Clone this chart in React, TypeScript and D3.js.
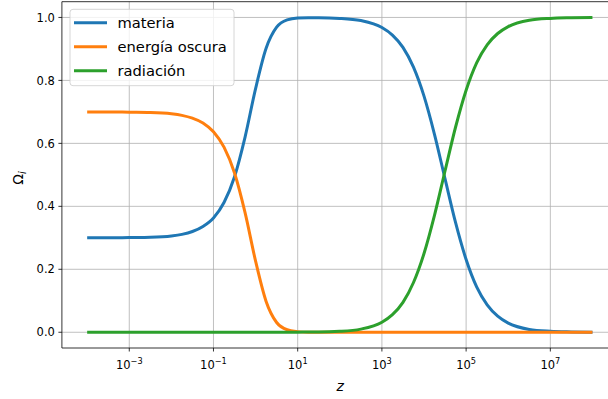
import React from 'react';
import * as d3 from 'd3';

// log10(z) sample points
const zExp = [-4, -3.5, -3, -2.5, -2, -1.75, -1.5, -1.25, -1, -0.75, -0.5, -0.25, 0, 0.25, 0.5, 0.75, 1, 1.25, 1.5, 2, 2.5, 3, 3.25, 3.5, 3.75, 4, 4.25, 4.5, 4.75, 5, 5.25, 5.5, 5.75, 6, 6.5, 7, 7.5, 8];
const materia = [0.300, 0.300, 0.301, 0.302, 0.306, 0.311, 0.320, 0.336, 0.363, 0.412, 0.494, 0.620, 0.774, 0.902, 0.969, 0.992, 0.998, 0.999, 0.999, 0.997, 0.990, 0.968, 0.944, 0.905, 0.842, 0.750, 0.628, 0.487, 0.348, 0.231, 0.144, 0.087, 0.051, 0.029, 0.009, 0.003, 0.001, 0.000];
const energiaOscura = [0.700, 0.700, 0.699, 0.698, 0.694, 0.689, 0.680, 0.665, 0.637, 0.588, 0.506, 0.380, 0.226, 0.098, 0.031, 0.008, 0.002, 0.000, 0.000, 0.000, 0.000, 0.000, 0.000, 0.000, 0.000, 0.000, 0.000, 0.000, 0.000, 0.000, 0.000, 0.000, 0.000, 0.000, 0.000, 0.000, 0.000, 0.000];
const radiacion = [0.000, 0.000, 0.000, 0.000, 0.000, 0.000, 0.000, 0.000, 0.000, 0.000, 0.000, 0.000, 0.000, 0.000, 0.000, 0.000, 0.000, 0.001, 0.001, 0.003, 0.010, 0.032, 0.056, 0.095, 0.158, 0.250, 0.372, 0.513, 0.652, 0.769, 0.856, 0.913, 0.949, 0.971, 0.991, 0.997, 0.999, 1.000];

const seriesNames = ['materia', 'energía oscura', 'radiación'];
const seriesColors = ['#1f77b4', '#ff7f0e', '#2ca02c'];
const xTickExps = [-3, -1, 1, 3, 5, 7];
const yTicks = [0, 0.2, 0.4, 0.6, 0.8, 1.0];

const W = 608;
const H = 399;
const font = 'DejaVu Sans, sans-serif';

export default function App() {
  const x = d3.scaleLog().domain([Math.pow(10, -4.6), Math.pow(10, 8.6)]).range([61.9, 617.7]);
  const y = d3.scaleLinear().domain([-0.05, 1.05]).range([348, 1.7]);

  const series = [materia, energiaOscura, radiacion];
  const line = d3.line<number>()
    .x((_, i) => x(Math.pow(10, zExp[i])))
    .y(d => y(d))
    .curve(d3.curveMonotoneX);

  const left = 61.9;
  const right = 617.7;
  const top = 1.7;
  const bottom = 348;

  return (
    <svg width={W} height={H} style={{ position: 'absolute', left: 0, top: 0, background: '#fff' }} fontFamily={font}>
      <defs>
        <clipPath id="plot">
          <rect x={left} y={top} width={right - left} height={bottom - top} />
        </clipPath>
      </defs>
      {/* grid */}
      <g stroke="#b0b0b0" strokeWidth={0.8}>
        {xTickExps.map(e => (
          <line key={e} x1={x(Math.pow(10, e))} x2={x(Math.pow(10, e))} y1={top} y2={bottom} />
        ))}
        {yTicks.map(t => (
          <line key={t} x1={left} x2={right} y1={y(t)} y2={y(t)} />
        ))}
      </g>
      {/* curves */}
      <g clipPath="url(#plot)">
        {series.map((s, i) => (
          <path key={i} d={line(s) || ''} fill="none" stroke={seriesColors[i]} strokeWidth={3} strokeLinejoin="round" strokeLinecap="butt" />
        ))}
      </g>
      {/* spines */}
      <g stroke="#000" strokeWidth={0.8} fill="none">
        <line x1={left} x2={left} y1={top} y2={bottom} />
        <line x1={left} x2={right} y1={bottom} y2={bottom} />
        <line x1={left} x2={right} y1={top} y2={top} />
      </g>
      {/* y ticks */}
      <g fontSize={11.5} fill="#000">
        {yTicks.map(t => (
          <g key={t}>
            <line x1={left - 3.5} x2={left} y1={y(t)} y2={y(t)} stroke="#000" strokeWidth={0.8} />
            <text x={left - 7} y={y(t)} dy="0.36em" textAnchor="end">{t.toFixed(1)}</text>
          </g>
        ))}
      </g>
      {/* x ticks */}
      <g fontSize={11.5} fill="#000">
        {xTickExps.map(e => {
          const px = x(Math.pow(10, e));
          return (
            <g key={e}>
              <line x1={px} x2={px} y1={bottom} y2={bottom + 3.5} stroke="#000" strokeWidth={0.8} />
              <text x={px} y={369} textAnchor="middle">
                10<tspan fontSize={8.2} dy={-5}>{e < 0 ? '\u2212' + Math.abs(e) : String(e)}</tspan>
              </text>
            </g>
          );
        })}
      </g>
      {/* axis labels */}
      <text x={(left + right) / 2 + 0.5} y={391} textAnchor="middle" fontSize={14} fontStyle="italic">z</text>
      <text transform="translate(23,178) rotate(-90)" textAnchor="middle" fontSize={14}>
        Ω<tspan fontSize={10} fontStyle="italic" dy={3}>i</tspan>
      </text>
      {/* legend */}
      <g>
        <rect x={70} y={9.3} width={164} height={76.4} rx={3} fill="#fff" fillOpacity={0.8} stroke="#cccccc" strokeWidth={0.8} />
        {seriesNames.map((n, i) => {
          const ly = 22.7 + i * 24;
          return (
            <g key={n}>
              <line x1={74} x2={107} y1={ly} y2={ly} stroke={seriesColors[i]} strokeWidth={3} />
              <text x={117.5} y={ly} dy="0.36em" fontSize={14.7} fill="#000">{n}</text>
            </g>
          );
        })}
      </g>
    </svg>
  );
}
